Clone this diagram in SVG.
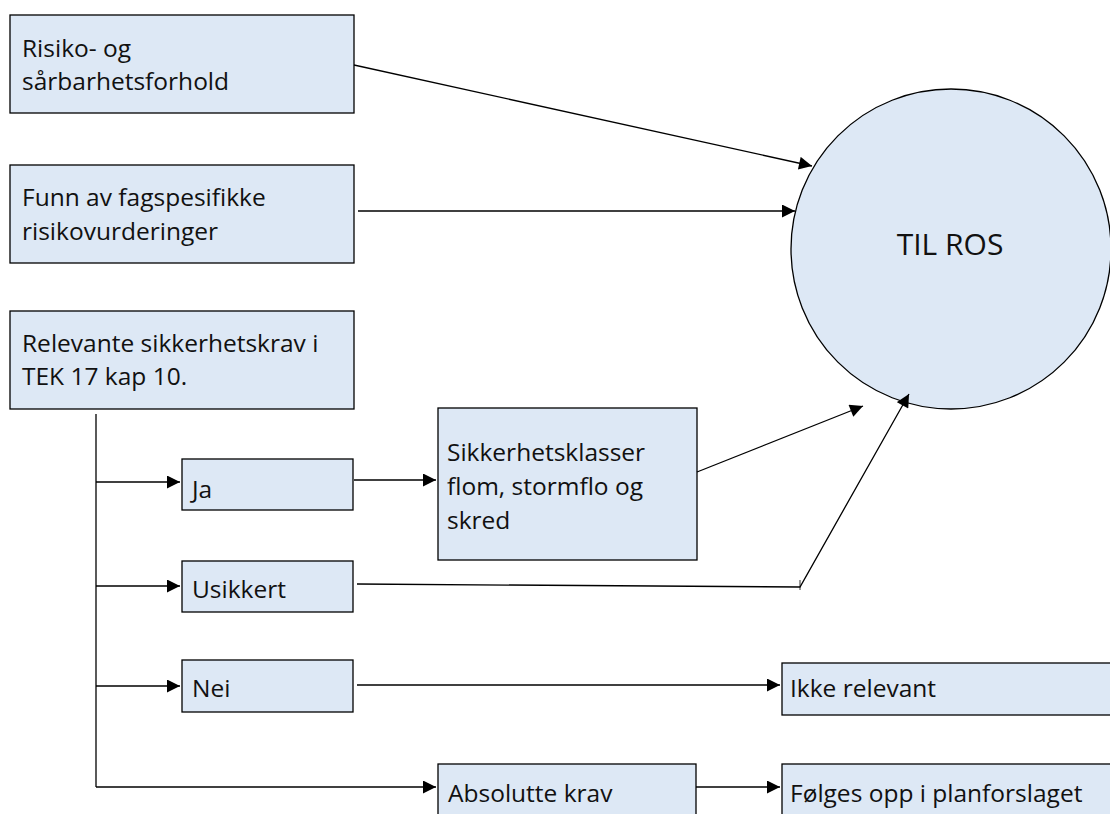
<svg xmlns="http://www.w3.org/2000/svg" width="1110" height="814" viewBox="0 0 1110 814">
<style>
.box{fill:#dde8f5;stroke:#000;stroke-width:1.3}
.t{font-family:"Open Sans","Noto Sans",sans-serif;font-size:24.5px;fill:#111}
.c{fill:none;stroke:#000;stroke-width:1.3}
</style>
<defs>
<marker id="ah" viewBox="0 0 10 10" refX="10" refY="5" markerWidth="15" markerHeight="13" markerUnits="userSpaceOnUse" orient="auto">
<path d="M0,0 L10,5 L0,10 z" fill="#000"/>
</marker>
</defs>
<rect width="1110" height="814" fill="#fff"/>
<g id="ros"><circle cx="951" cy="249" r="160" class="box"/><text x="950" y="255" class="t" text-anchor="middle" style="font-size:30px">TIL ROS</text></g>
<g id="risiko"><rect x="10" y="15" width="344" height="98" class="box"/><text class="t" x="22" y="57">Risiko- og</text><text class="t" x="22" y="90">sårbarhetsforhold</text></g>
<g id="funn"><rect x="10" y="165" width="344" height="98" class="box"/><text class="t" x="22" y="206">Funn av fagspesifikke</text><text class="t" x="22" y="240">risikovurderinger</text></g>
<g id="relevante"><rect x="10" y="311" width="344" height="98" class="box"/><text class="t" x="22" y="352">Relevante sikkerhetskrav i</text><text class="t" x="22" y="385">TEK 17 kap 10.</text></g>
<g id="ja"><rect x="182" y="459" width="171" height="51" class="box"/><text class="t" x="192" y="498">Ja</text></g>
<g id="usikkert"><rect x="182" y="561" width="171" height="51" class="box"/><text class="t" x="192" y="598">Usikkert</text></g>
<g id="nei"><rect x="182" y="660" width="171" height="52" class="box"/><text class="t" x="192" y="697">Nei</text></g>
<g id="sikk"><rect x="438" y="408" width="259" height="152" class="box"/><text class="t" x="447" y="461">Sikkerhetsklasser</text><text class="t" x="447" y="495">flom, stormflo og</text><text class="t" x="447" y="529">skred</text></g>
<g id="ikke"><rect x="782" y="663" width="340" height="52" class="box"/><text class="t" x="790" y="697">Ikke relevant</text></g>
<g id="absolutte"><rect x="438" y="764" width="258" height="60" class="box"/><text class="t" x="448" y="802">Absolutte krav</text></g>
<g id="folges"><rect x="782" y="764" width="340" height="60" class="box"/><text class="t" x="790" y="802">Følges opp i planforslaget</text></g>
<g id="connectors">
<line class="c" x1="354" y1="65" x2="812" y2="166" marker-end="url(#ah)"/>
<line class="c" x1="358" y1="211" x2="795" y2="211" marker-end="url(#ah)"/>
<polyline class="c" points="96,414 96,787"/>
<line class="c" x1="96" y1="482" x2="180" y2="482" marker-end="url(#ah)"/>
<line class="c" x1="96" y1="586" x2="180" y2="586" marker-end="url(#ah)"/>
<line class="c" x1="96" y1="686" x2="180" y2="686" marker-end="url(#ah)"/>
<line class="c" x1="96" y1="787" x2="436" y2="787" marker-end="url(#ah)"/>
<line class="c" x1="354" y1="480" x2="436" y2="480" marker-end="url(#ah)"/>
<line class="c" x1="697" y1="472" x2="863" y2="406" marker-end="url(#ah)"/>
<polyline class="c" points="357,584 800,587 909,394" marker-end="url(#ah)"/>
<line class="c" x1="800" y1="580" x2="800" y2="590" style="stroke-width:0.8"/>
<line class="c" x1="357" y1="685" x2="780" y2="685" marker-end="url(#ah)"/>
<line class="c" x1="696" y1="787" x2="780" y2="787" marker-end="url(#ah)"/>
</g>
</svg>
